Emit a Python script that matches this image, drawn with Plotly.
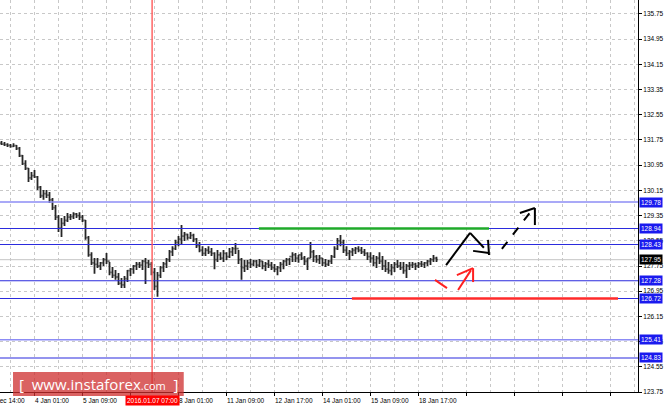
import plotly.graph_objects as go

# ---------------- data (H1 bars) ----------------
high = [131.72, 131.69, 131.65, 131.62, 131.65, 131.59, 131.53, 131.27, 131.11, 130.86,
        130.73, 130.80, 130.61, 130.29, 130.16, 130.16, 130.10, 129.91, 129.69, 129.37,
        129.27, 129.34, 129.43, 129.40, 129.46, 129.43, 129.46, 129.37, 129.21, 128.70,
        128.19, 128.00, 128.00, 127.88, 128.00, 128.16, 127.88, 127.72, 127.62, 127.53,
        127.37, 127.43, 127.62, 127.69, 127.78, 127.88, 127.88, 127.94, 128.00, 127.94,
        127.88, 127.69, 127.56, 127.75, 127.88, 128.00, 128.26, 128.38, 128.58, 128.70,
        129.05, 128.83, 128.77, 128.83, 128.77, 128.64, 128.51, 128.38, 128.32, 128.38,
        128.32, 128.19, 128.26, 128.19, 128.26, 128.19, 128.32, 128.35, 128.48, 128.26,
        128.00, 127.94, 127.94, 127.97, 127.94, 127.94, 127.97, 127.91, 127.88, 127.94,
        127.88, 127.81, 127.75, 127.88, 127.94, 128.00, 128.00, 128.19, 128.16, 128.10,
        128.19, 128.07, 128.00, 128.51, 128.26, 128.10, 128.10, 128.00, 127.97, 127.94,
        128.10, 128.38, 128.64, 128.73, 128.58, 128.38, 128.26, 128.32, 128.35, 128.38,
        128.35, 128.29, 128.19, 128.19, 128.10, 128.07, 128.19, 128.07, 127.94, 127.88,
        127.81, 127.88, 127.94, 127.88, 127.88, 127.81, 127.88, 127.88, 127.85, 127.88,
        127.91, 127.88, 127.94, 128.00, 128.10, 128.04]
low = [131.59, 131.56, 131.53, 131.50, 131.53, 131.43, 131.21, 130.96, 130.80, 130.42,
       130.48, 130.54, 130.16, 129.91, 129.85, 129.91, 129.75, 129.53, 129.21, 128.83,
       128.67, 129.02, 129.15, 129.21, 129.24, 129.27, 129.21, 129.15, 128.58, 128.04,
       127.78, 127.50, 127.69, 127.62, 127.75, 127.81, 127.46, 127.37, 127.31, 127.15,
       127.05, 127.05, 127.24, 127.43, 127.50, 127.62, 127.69, 127.62, 127.18, 127.69,
       127.46, 126.99, 126.77, 127.37, 127.56, 127.69, 127.88, 128.07, 128.26, 128.38,
       128.45, 128.54, 128.58, 128.61, 128.51, 128.32, 128.19, 128.07, 128.07, 128.13,
       128.07, 127.65, 127.88, 127.94, 127.88, 127.94, 128.00, 128.07, 128.13, 127.81,
       127.31, 127.56, 127.62, 127.69, 127.75, 127.69, 127.72, 127.65, 127.59, 127.69,
       127.62, 127.56, 127.46, 127.56, 127.65, 127.75, 127.78, 127.88, 127.88, 127.85,
       127.94, 127.78, 127.62, 128.00, 127.88, 127.85, 127.81, 127.75, 127.72, 127.75,
       127.81, 128.00, 128.26, 128.38, 128.16, 128.07, 127.94, 128.07, 128.13, 128.19,
       128.13, 128.07, 127.94, 127.85, 127.75, 127.69, 127.81, 127.62, 127.56, 127.50,
       127.46, 127.56, 127.69, 127.62, 127.50, 127.37, 127.62, 127.69, 127.62, 127.69,
       127.72, 127.69, 127.75, 127.78, 127.88, 127.88]
close = [131.62, 131.60, 131.58, 131.55, 131.57, 131.48, 131.25, 131.00, 130.85, 130.55,
         130.62, 130.58, 130.25, 129.98, 130.05, 130.00, 129.85, 129.60, 129.30, 128.95,
         129.10, 129.20, 129.30, 129.32, 129.40, 129.35, 129.30, 129.20, 128.65, 128.10,
         127.85, 127.80, 127.75, 127.85, 127.95, 127.90, 127.55, 127.45, 127.40, 127.20,
         127.15, 127.35, 127.60, 127.65, 127.75, 127.80, 127.78, 127.90, 127.85, 127.80,
         127.55, 127.10, 127.45, 127.70, 127.82, 127.95, 128.20, 128.30, 128.50, 128.60,
         128.70, 128.75, 128.65, 128.72, 128.60, 128.40, 128.25, 128.15, 128.25, 128.20,
         128.15, 127.95, 128.10, 128.00, 128.15, 128.05, 128.20, 128.30, 128.30, 127.95,
         127.70, 127.75, 127.85, 127.80, 127.90, 127.78, 127.90, 127.75, 127.82, 127.78,
         127.70, 127.65, 127.70, 127.80, 127.90, 127.95, 128.05, 128.10, 128.00, 128.10,
         128.00, 127.90, 128.00, 128.20, 128.05, 127.95, 128.00, 127.85, 127.80, 127.90,
         128.05, 128.30, 128.55, 128.50, 128.25, 128.15, 128.20, 128.25, 128.30, 128.25,
         128.20, 128.15, 128.05, 128.00, 127.85, 128.00, 127.90, 127.75, 127.65, 127.60,
         127.70, 127.80, 127.75, 127.70, 127.60, 127.75, 127.78, 127.80, 127.75, 127.82,
         127.80, 127.85, 127.90, 127.95, 128.00, 127.95]
first_open = 131.65
open_ = [first_open] + close[:-1]
bar_index = list(range(len(close)))

price_ticks = ["123.75", "124.55", "125.35", "126.15", "126.95", "127.75", "128.55", "129.35",
               "130.15", "130.95", "131.75", "132.55", "133.35", "134.15", "134.95", "135.75"]
time_tick_index = [11, 27, 43, 59, 75, 91, 107, 123, 139]
time_tick_text = ["4 Jan 01:00", "5 Jan 09:00", "6 Jan 17:00", "8 Jan 01:00", "11 Jan 09:00",
                  "12 Jan 17:00", "14 Jan 01:00", "15 Jan 09:00", "18 Jan 17:00"]
first_label_text = "31 Dec 14:00"

levels_strong = [128.94, 128.43, 127.28, 126.72, 124.83]
levels_light = [129.78, 125.41]
current_price = 127.95
marker_bar = 50.2
marker_text = "2016.01.07 07:00"

resistance = (85.8, 162.5, 128.94)   # green segment
support = (116.8, 205.5, 126.72)     # red segment

# hand-drawn forecast arrows: (x0, y0, x1, y1, colour, dash)
drawing = [
    (148.2, 127.78, 156.2, 128.80, "black", "solid"),
    (156.2, 128.80, 160.8, 128.33, "black", "solid"),
    (157.2, 128.23, 162.5, 128.16, "black", "solid"),
    (162.2, 128.58, 162.5, 128.10, "black", "solid"),
    (166.8, 128.29, 176.2, 129.45, "black", "dash"),
    (172.8, 129.43, 177.8, 129.59, "black", "solid"),
    (177.8, 129.59, 177.8, 129.05, "black", "solid"),
    (144.5, 127.31, 148.5, 127.05, "#ff2020", "solid"),
    (152.2, 126.99, 156.5, 127.62, "#ff2020", "solid"),
    (151.8, 127.46, 157.2, 127.68, "#ff2020", "solid"),
    (157.2, 127.68, 157.2, 127.24, "#ff2020", "solid"),
]

FONT = "Liberation Sans, Arial, sans-serif"

fig = go.Figure()
fig.add_trace(go.Ohlc(
    x=bar_index, open=open_, high=high, low=low, close=close,
    increasing=dict(line=dict(color="#262626", width=1.8)),
    decreasing=dict(line=dict(color="#262626", width=1.8)),
    tickwidth=0.4, hoverinfo="skip", showlegend=False,
))

shapes = []
shapes.append(dict(type="line", xref="paper", x0=0, x1=1, yref="y", y0=current_price, y1=current_price,
                   line=dict(color="#c4c4c4", width=1), layer="below"))
for lv in levels_light:
    shapes.append(dict(type="line", xref="paper", x0=0, x1=1, yref="y", y0=lv, y1=lv,
                       line=dict(color="#8c8cf5", width=1.6)))
for lv in levels_strong:
    shapes.append(dict(type="line", xref="paper", x0=0, x1=1, yref="y", y0=lv, y1=lv,
                       line=dict(color="#2b2bdd", width=1.1)))
shapes.append(dict(type="line", xref="x", x0=marker_bar, x1=marker_bar, yref="paper", y0=0, y1=1,
                   line=dict(color="#ff5a5a", width=1.4)))
shapes.append(dict(type="line", xref="x", x0=resistance[0], x1=resistance[1], yref="y",
                   y0=resistance[2], y1=resistance[2], line=dict(color="#1faa2a", width=2.5)))
shapes.append(dict(type="line", xref="x", x0=support[0], x1=support[1], yref="y",
                   y0=support[2], y1=support[2], line=dict(color="#ff2a2a", width=2.5)))
for x0, y0, x1, y1, col, dash in drawing:
    shapes.append(dict(type="line", xref="x", yref="y", x0=x0, y0=y0, x1=x1, y1=y1,
                       line=dict(color=col, width=2, dash=dash)))
shapes.append(dict(type="rect", xref="paper", yref="paper", x0=0.0204, x1=0.288, y0=-0.0105, y1=0.051,
                   fillcolor="rgba(205,45,45,0.75)", line=dict(width=0), layer="above"))

annotations = []
for idx, txt in zip(time_tick_index, time_tick_text):
    annotations.append(dict(x=idx - 0.5, xref="x", y=0, yref="paper", yanchor="top", xanchor="left",
                            yshift=-3, text=txt, showarrow=False,
                            font=dict(family=FONT, size=6.5, color="black")))
annotations.append(dict(x=8.5, xref="x", y=0, yref="paper", yanchor="top", xanchor="right",
                        yshift=-3, text=first_label_text, showarrow=False,
                        font=dict(family=FONT, size=6.5, color="black")))
annotations.append(dict(x=marker_bar, xref="x", y=0, yref="paper", yanchor="top", xanchor="center",
                        yshift=-3, text=marker_text, showarrow=False, bgcolor="#ff0000",
                        borderpad=1, font=dict(family=FONT, size=6.5, color="white")))
for lv in levels_light + levels_strong:
    annotations.append(dict(x=1, xref="paper", y=lv, yref="y", xanchor="left", yanchor="middle",
                            xshift=1, text=f"{lv:.2f}", showarrow=False, bgcolor="#1a1aee",
                            borderpad=1, font=dict(family=FONT, size=6.5, color="white")))
annotations.append(dict(x=1, xref="paper", y=current_price, yref="y", xanchor="left", yanchor="middle",
                        xshift=1, text=f"{current_price:.2f}", showarrow=False, bgcolor="black",
                        borderpad=1, font=dict(family=FONT, size=6.5, color="white")))
annotations.append(dict(x=0.154, xref="paper", y=0.021, yref="paper", xanchor="center", yanchor="middle",
                        text="[  www.instaforex<span style='font-size:11px'>.com</span>  ]",
                        showarrow=False, font=dict(family="Open Sans, sans-serif", size=15, color="white")))

fig.update_layout(
    width=665, height=411,
    margin=dict(l=0, r=27, t=0, b=19),
    paper_bgcolor="white", plot_bgcolor="white",
    shapes=shapes, annotations=annotations,
    showlegend=False,
    xaxis=dict(
        range=[-0.5, 212.17], rangeslider=dict(visible=False),
        tick0=11, dtick=16, ticks="outside", ticklen=3, tickcolor="black",
        showticklabels=False,
        showgrid=True, gridcolor="#c8c8c8", griddash="dot", gridwidth=1,
        minor=dict(tick0=3, dtick=8, showgrid=True, gridcolor="#c8c8c8", griddash="dot", ticks=""),
        showline=True, linecolor="black", linewidth=1, zeroline=False, fixedrange=True,
    ),
    yaxis=dict(
        range=[123.75, 136.194], side="right",
        tickvals=[float(t) for t in price_ticks], ticktext=price_ticks,
        ticks="outside", ticklen=3, tickcolor="black",
        tickfont=dict(family=FONT, size=6.5, color="black"),
        showgrid=True, gridcolor="#c8c8c8", griddash="dot", gridwidth=1,
        showline=True, linecolor="black", linewidth=1, zeroline=False, fixedrange=True,
    ),
)

fig.write_html("out.html", config={"displayModeBar": False},
               post_script="document.body.style.margin='0';document.body.style.padding='0';")
